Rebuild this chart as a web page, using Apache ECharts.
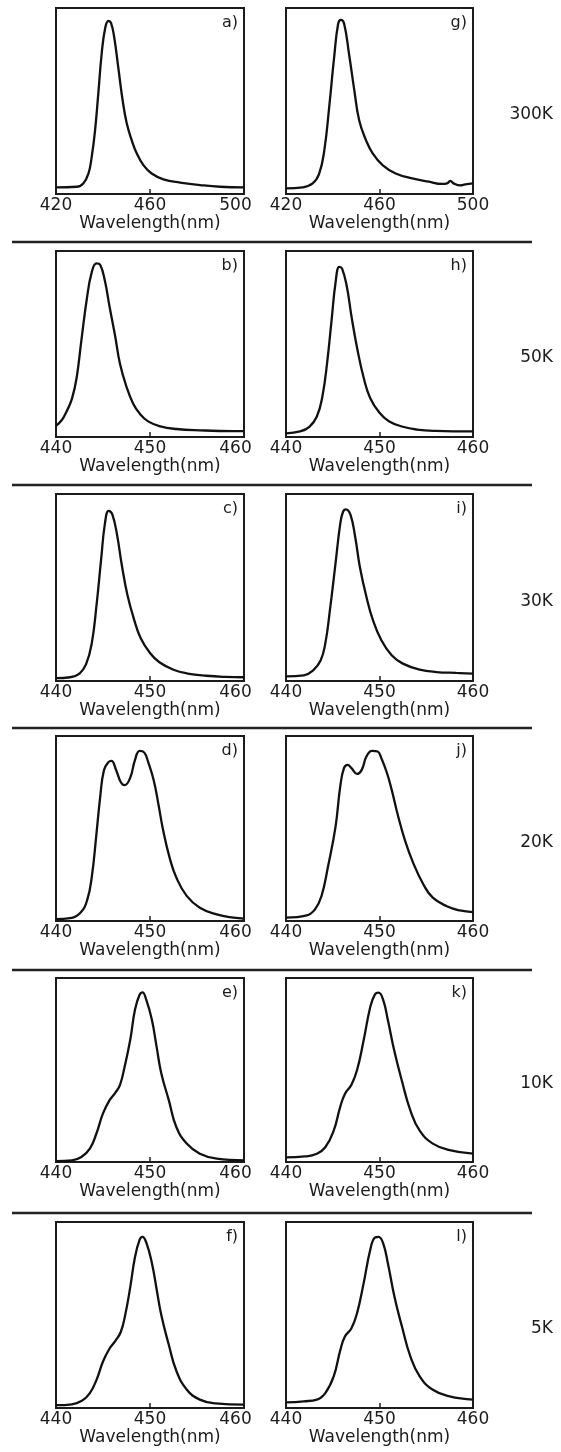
<!DOCTYPE html>
<html>
<head>
<meta charset="utf-8">
<script src="https://cdn.jsdelivr.net/npm/echarts@6/dist/echarts.min.js"></script>
<style>
  html, body { margin: 0; padding: 0; background: #fff; }
  #chart { width: 561px; height: 1452px; }
</style>
</head>
<body>
<div id="chart"></div>
<script>
// Photoluminescence spectra: [wavelength (nm), intensity (a.u.)]
const spectrumA = [[420,3.6],[428.8,3.9],[431.6,5.7],[433.8,11],[435.2,20],[436.6,34],[438,54],[439.4,75],[440.9,89],[442.3,93],[443.4,92],[444.8,84],[446.5,68],[448.4,50],[450.1,38],[452.2,29],[454.3,22],[457.2,15.5],[460.7,11],[465.7,7.9],[472.8,6.1],[481.3,4.8],[489.8,3.9],[500,3.6]];
const spectrumB = [[440,6],[440.6,9],[441.1,13.5],[441.7,20.6],[442.2,32],[442.7,52],[443.3,75],[443.8,88.5],[444.3,93.4],[444.7,92.6],[445.2,84],[445.7,70],[446.3,54],[446.8,39.5],[447.5,27],[448.2,18],[448.9,12.6],[449.8,8.4],[451.1,5.7],[452.8,4.3],[455.3,3.6],[458.9,3.2],[460,3.2]];
const spectrumC = [[440,1.5],[441.5,2],[442.5,4],[443.2,9],[443.8,20],[444.3,40],[444.8,65],[445.2,84],[445.6,91],[446,89],[446.5,78],[447,62],[447.6,46],[448.3,33],[449,23],[450,15],[451,10],[452.5,6],[454,4],[456,2.8],[458,2.2],[460,2]];
const spectrumD = [[440,1],[441.5,1.5],[442.6,4.5],[443.3,11],[443.8,23.5],[444.3,47],[444.7,67],[445.1,81.5],[445.6,86],[445.9,86.6],[446.4,81.5],[446.9,75],[447.3,73.4],[447.9,77.5],[448.4,87],[448.9,92],[449.4,91],[449.8,86],[450.4,76],[450.9,63],[451.4,49],[452.1,34],[452.8,23.5],[453.9,13.6],[455.3,7.2],[457.1,3.6],[458.9,1.8],[460,1.3]];
const spectrumE = [[440,0.5],[441.7,0.9],[442.7,2.7],[443.6,7.3],[444.3,15.5],[445,26.4],[445.7,33.6],[446.3,37.6],[446.8,41.8],[447.3,51.8],[447.9,66.4],[448.4,82.7],[448.9,91],[449.2,92.2],[449.6,88.2],[450.2,77.3],[450.7,62.7],[451.2,48.2],[452,33.6],[452.8,19],[453.9,10],[455.3,4.5],[457.1,1.8],[460,0.9]];
const spectrumF = [[440,1.5],[441.7,2],[442.8,4],[443.6,8],[444.3,15],[445,25],[445.7,32],[446.3,36],[446.9,41],[447.4,51],[447.9,65],[448.4,81],[448.9,90.5],[449.2,92],[449.6,89],[450.2,78],[450.7,64],[451.2,50],[452,34],[452.8,20],[453.9,10],[455.3,4.5],[457,2.5],[460,1.8]];
const spectrumG = [[420,3],[427.1,3.6],[431.4,5.7],[434.2,11],[436.4,23.6],[438.5,47],[440.6,73.6],[442.3,91.4],[443.5,93.6],[444.9,91.4],[447,75],[449.2,56],[451.3,39.6],[454.2,29],[457,22],[461.3,15.5],[466.9,11],[474,8.4],[481.1,6.6],[486.8,5.4],[488.9,5.7],[490.3,7.1],[491.7,5.7],[494.6,4.6],[496.7,5.2],[500,5.7]];
const spectrumH = [[440,2],[441.5,3],[442.5,5.5],[443.3,11],[443.9,22],[444.4,40],[444.9,64],[445.3,83],[445.7,91.5],[446,90.5],[446.5,81],[447,65],[447.6,48],[448.3,32],[449,21],[450,13],[451,8.5],[452.5,5.5],[454,4],[456,3.3],[460,3]];
const spectrumI = [[440,2.5],[441.9,3],[442.9,5.7],[443.7,11],[444.2,20],[444.7,38],[445.3,63],[445.8,84],[446.1,90.5],[446.4,91.8],[446.9,88.8],[447.4,77],[447.9,61],[448.6,45],[449.3,32.5],[450.2,21.8],[451.3,13.8],[452.5,9.3],[454.3,6.1],[456.1,4.8],[458.2,4.3],[460,3.9]];
const spectrumJ = [[440,1.8],[442.2,3],[443.1,6.3],[443.8,13.5],[444.5,29.6],[445.3,51],[445.8,72.7],[446.2,82.6],[446.6,84.4],[447,82.6],[447.6,79.5],[448.1,81.7],[448.6,88.9],[449.2,92],[449.8,91.6],[450.2,88],[450.8,80],[451.3,71],[452,56.5],[452.7,44],[453.6,31.4],[454.7,19.7],[455.7,12.6],[457.2,8],[458.6,5.7],[460,4.8]];
const spectrumK = [[440,2.5],[442,3],[443.3,4.5],[444.2,8],[445.1,17],[445.8,30],[446.3,37],[447,42],[447.6,50],[448.3,66],[449,84],[449.5,91],[449.9,92],[450.4,88],[450.9,77],[451.6,60],[452.4,44],[453.3,28],[454.3,17],[455.7,10],[457.5,6.5],[460,4.5]];
const spectrumL = [[440,3],[441.9,3.6],[443.3,4.5],[444.2,8],[445.1,17],[445.8,31],[446.3,38.4],[447,42.9],[447.6,51],[448.3,67],[449,84.8],[449.5,91.6],[449.9,92],[450.4,88.4],[450.9,77.7],[451.6,59.8],[452.4,43.8],[453.3,27.7],[454.3,17],[455.7,9.8],[457.5,6.25],[460,4.5]];

// Panel order: left column a-f, right column g-l
const leftSpectra = [spectrumA, spectrumB, spectrumC, spectrumD, spectrumE, spectrumF];
const rightSpectra = [spectrumG, spectrumH, spectrumI, spectrumJ, spectrumK, spectrumL];
const leftLetters = ['a)', 'b)', 'c)', 'd)', 'e)', 'f)'];
const rightLetters = ['g)', 'h)', 'i)', 'j)', 'k)', 'l)'];
const temperatures = ['300K', '50K', '30K', '20K', '10K', '5K'];

// x ranges per row and their tick labels
const wideTicks = [420, 460, 500];
const narrowTicks = [440, 450, 460];
const rowTicks = [wideTicks, narrowTicks, narrowTicks, narrowTicks, narrowTicks, narrowTicks];
const axisTitle = 'Wavelength(nm)';

// ---- layout ----
const FONT = '"DejaVu Sans", sans-serif';
const INK = '#1c1c1c';
const colLeft = [56, 286];
const colWidth = [188, 187];
const rowTop = [8, 251, 494, 736, 978, 1222];
const rowBottom = [194, 437, 681, 921, 1162, 1408];
const separatorY = [242, 485, 728, 970, 1213];

const grids = [], xAxes = [], yAxes = [], series = [], graphics = [];

function addPanel(col, row, data, letter) {
  const idx = grids.length;
  const ticks = rowTicks[row];
  const lo = ticks[0], hi = ticks[ticks.length - 1];
  const step = ticks[1] - ticks[0];
  const left = colLeft[col], top = rowTop[row];
  const width = colWidth[col], height = rowBottom[row] - rowTop[row];
  grids.push({
    left: left, top: top, width: width, height: height,
    show: true, borderColor: INK, borderWidth: 2, backgroundColor: 'transparent'
  });
  xAxes.push({
    gridIndex: idx, type: 'value', min: lo, max: hi, interval: step,
    axisLine: { show: false },
    splitLine: { show: false },
    axisTick: { show: true, inside: true, length: 5, customValues: [ticks[1]],
                lineStyle: { color: INK, width: 1.5 } },
    axisLabel: {
      show: true, margin: 3, customValues: ticks,
      showMinLabel: true, showMaxLabel: true, hideOverlap: false,
      color: INK, fontFamily: FONT, fontSize: 17,
      // left column: the last label is nudged inward so it clears the neighbour
      formatter: function (v) {
        return (col === 0 && v === hi) ? '{shift|' + v + '}' : '{plain|' + v + '}';
      },
      rich: {
        plain: { color: INK, fontFamily: FONT, fontSize: 17 },
        shift: { color: INK, fontFamily: FONT, fontSize: 17, padding: [0, 17, 0, 0] }
      }
    },
    name: axisTitle, nameLocation: 'middle', nameGap: 14,
    nameTextStyle: { color: INK, fontFamily: FONT, fontSize: 17 }
  });
  yAxes.push({
    gridIndex: idx, type: 'value', min: 0, max: 100, show: false,
    splitLine: { show: false }
  });
  series.push({
    type: 'line', xAxisIndex: idx, yAxisIndex: idx, data: data,
    showSymbol: false, smooth: 0.45,
    lineStyle: { color: '#111', width: 2.3 }, silent: true, animation: false
  });
  graphics.push({
    type: 'text', x: left + width - 6, y: top + 15,
    style: { text: letter, font: '16px ' + FONT, fill: INK,
             align: 'right', verticalAlign: 'middle',
             textAlign: 'right', textVerticalAlign: 'middle' }
  });
}

for (let r = 0; r < 6; r++) {
  addPanel(0, r, leftSpectra[r], leftLetters[r]);
  addPanel(1, r, rightSpectra[r], rightLetters[r]);
  graphics.push({
    type: 'text', x: 553, y: (rowTop[r] + rowBottom[r]) / 2 + 14,
    style: { text: temperatures[r], font: '17px ' + FONT, fill: INK,
             align: 'right', verticalAlign: 'middle',
             textAlign: 'right', textVerticalAlign: 'middle' }
  });
}
separatorY.forEach(function (y) {
  graphics.push({
    type: 'line', shape: { x1: 12, y1: y, x2: 532, y2: y },
    style: { stroke: '#222', lineWidth: 2.5 }
  });
});

const chart = echarts.init(document.getElementById('chart'), null, { renderer: 'canvas' });
chart.setOption({
  animation: false,
  backgroundColor: '#fff',
  grid: grids,
  xAxis: xAxes,
  yAxis: yAxes,
  series: series,
  graphic: graphics
});
</script>
</body>
</html>
